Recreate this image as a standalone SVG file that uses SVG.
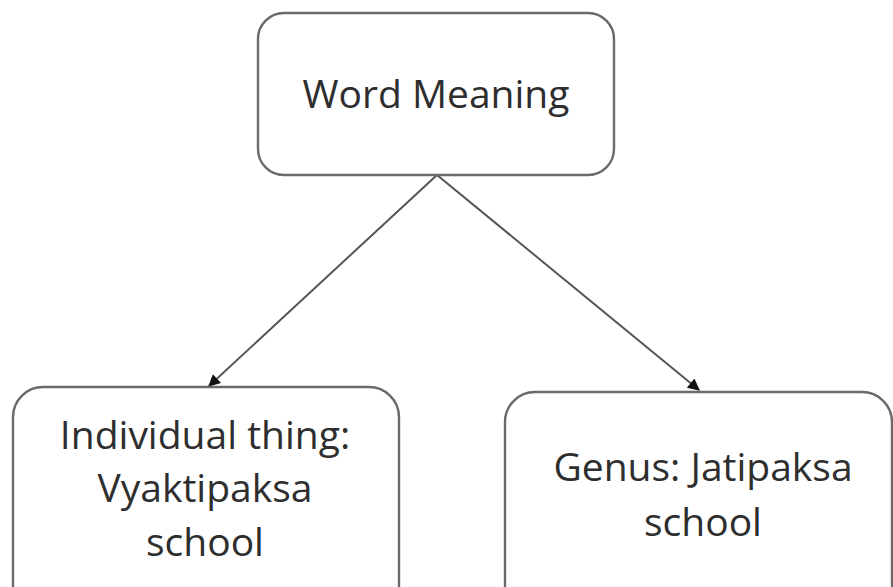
<svg xmlns="http://www.w3.org/2000/svg" width="893" height="587" viewBox="0 0 893 587">
<defs>
<style>
.box{fill:#fff;stroke:#6a6a6a;stroke-width:2.4}
.t{font-family:"Open Sans","Noto Sans",sans-serif;font-size:39px;fill:#2e2e2e;text-anchor:middle}
.c{stroke:#555;stroke-width:2;fill:none}
</style>
<marker id="ah" viewBox="0 0 10 10" refX="9" refY="5" markerWidth="13" markerHeight="12" markerUnits="userSpaceOnUse" orient="auto"><path d="M0,0 L10,5 L0,10 z" fill="#111"/></marker>
</defs>
<rect width="893" height="587" fill="#fff"/>
<g id="connectors">
<line class="c" x1="437" y1="175" x2="209" y2="386" marker-end="url(#ah)"/>
<line class="c" x1="437" y1="175" x2="699" y2="390" marker-end="url(#ah)"/>
</g>
<g id="word-meaning">
<rect class="box" x="258" y="13" width="356" height="162" rx="26"/>
<text class="t" x="436" y="108">Word Meaning</text>
</g>
<g id="individual">
<rect class="box" x="13" y="387" width="386" height="230" rx="30"/>
<text class="t" x="205" y="449">Individual thing:</text>
<text class="t" x="205" y="502">Vyaktipaksa</text>
<text class="t" x="205" y="556">school</text>
</g>
<g id="genus">
<rect class="box" x="505" y="392" width="387" height="230" rx="30"/>
<text class="t" x="703" y="481">Genus: Jatipaksa</text>
<text class="t" x="703" y="536">school</text>
</g>
</svg>
